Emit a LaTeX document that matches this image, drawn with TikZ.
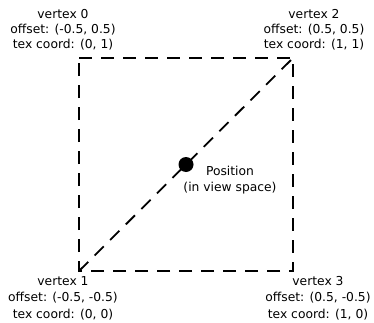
\documentclass[tikz,border=0pt]{standalone}
\usepackage{fontspec}
\setmainfont{DejaVu Sans}
\begin{document}
\begin{tikzpicture}[x=1pt,y=1pt,
  lbl/.style={align=center,inner sep=0pt,font=\fontsize{12.3}{15}\selectfont},
  dashline/.style={line width=1.8pt,dash pattern=on 13pt off 9pt}]
\useasboundingbox (0,0) rectangle (374,322);
\coordinate (v0) at (79,264);
\coordinate (v1) at (79,51);
\coordinate (v2) at (293,264);
\coordinate (v3) at (293,51);
\draw[dashline] (v0) -- (v2) -- (v3) -- (v1) -- cycle;
\draw[dashline] (v1) -- (v2);
\node[circle,fill=black,minimum size=15pt,inner sep=0pt] (pos) at (186,157.5) {};
\node[lbl] (l0) at (63,292) {vertex 0\\offset: (-0.5, 0.5)\\tex coord: (0, 1)};
\node[lbl] (l2) at (314,292) {vertex 2\\offset: (0.5, 0.5)\\tex coord: (1, 1)};
\node[lbl,font=\fontsize{12.3}{16.5}\selectfont] (l1) at (63,24) {vertex 1\\offset: (-0.5, -0.5)\\tex coord: (0, 0)};
\node[lbl,font=\fontsize{12.3}{16.5}\selectfont] (l3) at (318,24) {vertex 3\\offset: (0.5, -0.5)\\tex coord: (1, 0)};
\node[lbl,font=\fontsize{12.3}{16}\selectfont] (lp) at (230,142) {Position\\(in view space)};
\end{tikzpicture}
\end{document}
